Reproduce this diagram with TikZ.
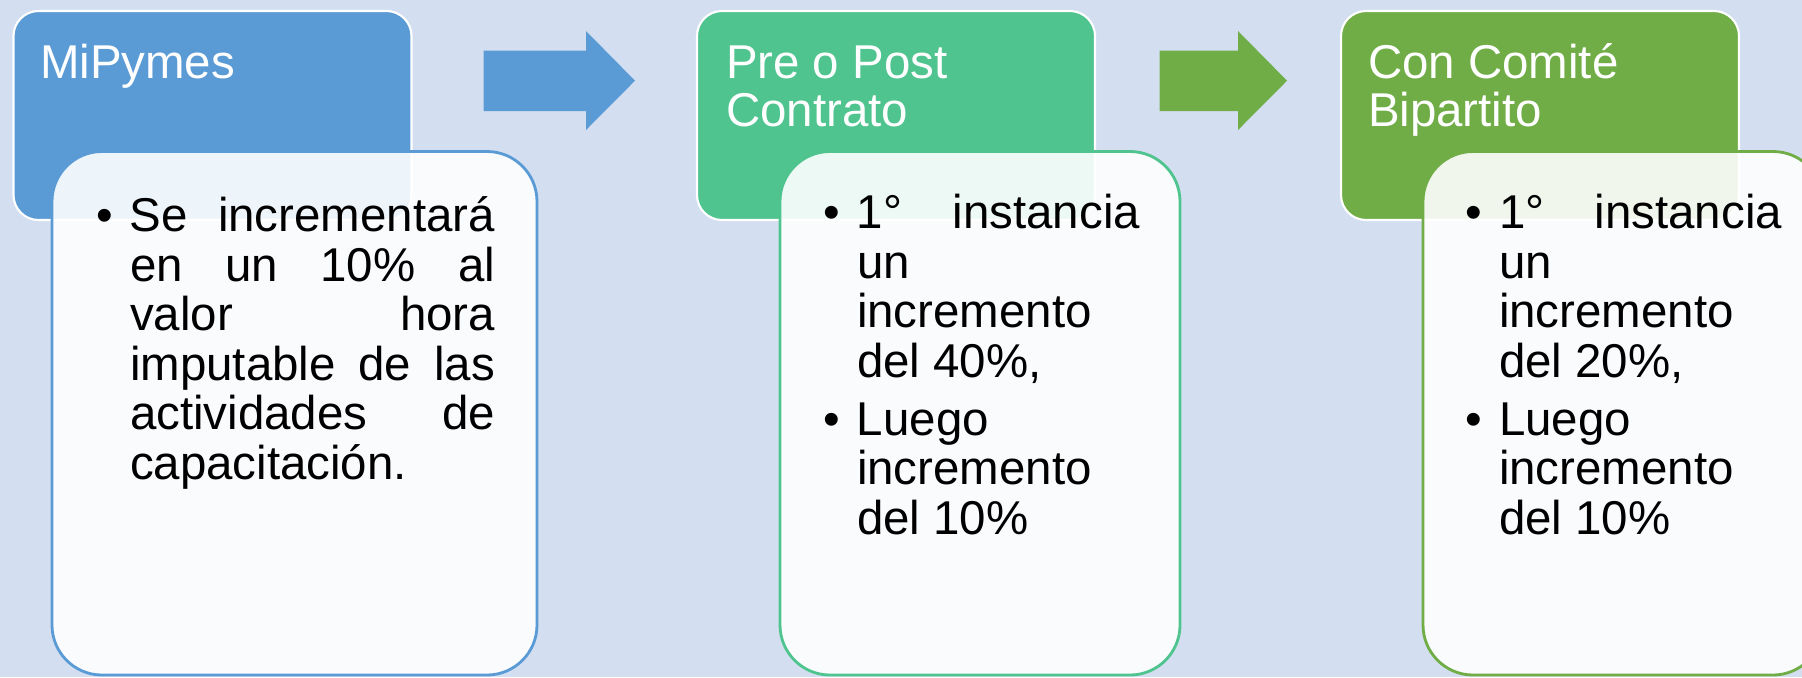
\documentclass[tikz,border=0pt]{standalone}
\usepackage{fontspec}
\setmainfont{Liberation Sans}
\usepackage{tikz}

\definecolor{fondo}{HTML}{D3DFF1}
\definecolor{azul}{HTML}{5B9BD5}
\definecolor{verdeagua}{HTML}{4FC48F}
\definecolor{verde}{HTML}{70AD47}

\begin{document}
\begin{tikzpicture}[every node/.style={inner sep=0pt, outer sep=0pt},
  cabecera/.style={draw=white, line width=0.6pt, rounded corners=0.25cm, minimum width=3.98cm, minimum height=2.09cm, anchor=north west},
  cuerpo/.style={fill=white, fill opacity=0.9, line width=0.8pt, rounded corners=0.5cm, minimum height=5.235cm, anchor=north west},
  titulo/.style={text=white, font=\fontsize{13.5}{13.9}\selectfont, anchor=base west},
  texto/.style={text=black, font=\fontsize{13.5}{14.1}\selectfont, anchor=base west}]
\useasboundingbox (0,0) rectangle (18.02,6.77);
\fill[fondo] (0,0) rectangle (18.02,6.77);
\clip (0,0) rectangle (18.02,6.77);

\node[cabecera, fill=azul] (cabmipymes) at (0.135,6.66) {};
\node[cabecera, fill=verdeagua] (cabcontrato) at (6.97,6.66) {};
\node[cabecera, fill=verde] (cabcomite) at (13.41,6.66) {};

\node[cuerpo, draw=azul, minimum width=4.85cm] (cpomipymes) at (0.52,5.255) {};
\node[cuerpo, draw=verdeagua, minimum width=4.0cm] (cpocontrato) at (7.80,5.255) {};
\node[cuerpo, draw=verde, minimum width=4.0cm] (cpocomite) at (14.23,5.255) {};

\fill[azul] (4.835,5.66) -- (5.86,5.66) -- (5.86,5.47) -- (6.35,5.963) -- (5.86,6.46) -- (5.86,6.263) -- (4.835,6.263) -- cycle;
\fill[verde] (11.595,5.66) -- (12.38,5.66) -- (12.38,5.47) -- (12.87,5.963) -- (12.38,6.46) -- (12.38,6.263) -- (11.595,6.263) -- cycle;

\node[titulo] (titmipymes) at (0.40,5.99) {\parbox[t]{3.6cm}{MiPymes}};
\node[titulo] (titcontrato) at (7.26,5.99) {\parbox[t]{3.6cm}{Pre o Post\\Contrato}};
\node[titulo] (titcomite) at (13.68,5.99) {\parbox[t]{3.6cm}{Con Comité\\Bipartito}};

\node[texto] (txtmipymes) at (0.96,4.455) {\parbox[t]{3.99cm}{%
\makebox[0.34cm][l]{\textbullet}\makebox[3.65cm][s]{Se incrementará}\\
\hspace*{0.34cm}\makebox[3.65cm][s]{en un 10\% al}\\
\hspace*{0.34cm}\makebox[3.65cm][s]{valor hora}\\
\hspace*{0.34cm}\makebox[3.65cm][s]{imputable de las}\\
\hspace*{0.34cm}\makebox[3.65cm][s]{actividades de}\\
\hspace*{0.34cm}capacitación.}};

\node[texto] (txtcontrato) at (8.23,4.485) {\parbox[t]{3.2cm}{%
\makebox[0.34cm][l]{\textbullet}\makebox[2.83cm][s]{1° instancia}\\
\hspace*{0.34cm}un\\
\hspace*{0.34cm}incremento\\
\hspace*{0.34cm}del 40\%,\par\vspace{2.4pt}
\makebox[0.34cm][l]{\textbullet}Luego\\
\hspace*{0.34cm}incremento\\
\hspace*{0.34cm}del 10\%}};

\node[texto] (txtcomite) at (14.65,4.485) {\parbox[t]{3.2cm}{%
\makebox[0.34cm][l]{\textbullet}\makebox[2.83cm][s]{1° instancia}\\
\hspace*{0.34cm}un\\
\hspace*{0.34cm}incremento\\
\hspace*{0.34cm}del 20\%,\par\vspace{2.4pt}
\makebox[0.34cm][l]{\textbullet}Luego\\
\hspace*{0.34cm}incremento\\
\hspace*{0.34cm}del 10\%}};
\end{tikzpicture}
\end{document}
